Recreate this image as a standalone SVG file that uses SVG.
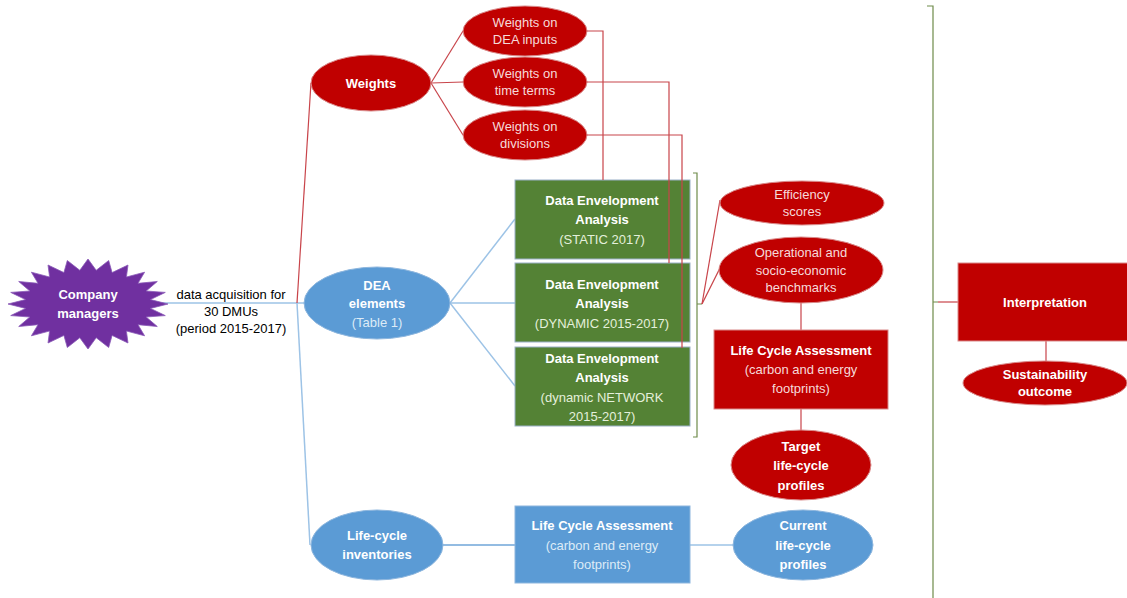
<svg xmlns="http://www.w3.org/2000/svg" width="1127" height="598" viewBox="0 0 1127 598">
<style>
text{font-family:"Liberation Sans",Arial,sans-serif;font-size:13px;text-anchor:middle}
.b{font-weight:bold}
.w{fill:#ffffff}
.rp{fill:#F6DADA}
.gp{fill:#E4F0DB}
.bp{fill:#DDEBF7}
.k{fill:#000000}
.red{fill:#C00000;stroke:#D98A8A;stroke-width:1}
.blue{fill:#5B9BD5;stroke:#8DB6DE;stroke-width:1}
.green{fill:#548235;stroke:#9AB0C8;stroke-width:1}
.cr{fill:none;stroke:#C8444A;stroke-width:1.2}
.cb{fill:none;stroke:#9DC3E6;stroke-width:1.5}
.cb2{fill:none;stroke:#6FA6D8;stroke-width:1.5}
.br{fill:none;stroke:#6E8B4A;stroke-width:1.2}
</style>
<g id="connectors">
<line class="cb" x1="160" y1="303" x2="305" y2="303"/>
<line class="cr" x1="297" y1="303" x2="311" y2="83"/>
<line class="cb" x1="297" y1="303" x2="310" y2="545"/>
<line class="cr" x1="431" y1="83" x2="463" y2="31"/>
<line class="cr" x1="431" y1="83" x2="463" y2="82"/>
<line class="cr" x1="431" y1="83" x2="463" y2="135"/>
<line class="cb" x1="450" y1="303" x2="515" y2="219"/>
<line class="cb" x1="450" y1="303" x2="515" y2="303"/>
<line class="cb" x1="450" y1="303" x2="515" y2="386"/>
<line class="cb2" x1="443" y1="545" x2="515" y2="545"/>
<line class="cb" x1="690" y1="545" x2="733" y2="545"/>
<path class="br" d="M693,173 H697 V437 H693 M697,304 H702"/>
<line class="cr" x1="702" y1="304" x2="720" y2="200"/>
<line class="cr" x1="702" y1="304" x2="720" y2="268"/>
<line class="cr" x1="801" y1="303" x2="801" y2="330"/>
<line class="cr" x1="801" y1="409" x2="801" y2="431"/>
<path class="br" d="M927,6 H933 V598 M933,302 H938"/>
<line class="cr" x1="938" y1="302" x2="958" y2="302"/>
<line class="cr" x1="1046" y1="341" x2="1046" y2="361"/>
</g>
<g id="company-managers">
<polygon fill="#7030A0" stroke="#8A5AB8" stroke-width="0.8" points="168,304 150.5,308.4 165.3,315.6 146.2,317 157.3,326.5 138,324.7 144.6,335.8 126.4,331 128,343 112.1,335.4 108.7,347.5 96.2,337.7 88,349 79.8,337.7 67.3,347.5 63.9,335.4 48,343 49.6,331 31.4,335.8 38,324.7 18.7,326.5 29.8,317 10.7,315.6 25.5,308.4 8,304 25.5,299.6 10.7,292.4 29.8,291 18.7,281.5 38,283.3 31.4,272.2 49.6,277 48,265 63.9,272.6 67.3,260.5 79.8,270.3 88,259 96.2,270.3 108.7,260.5 112.1,272.6 128,265 126.4,277 144.6,272.2 138,283.3 157.3,281.5 146.2,291 165.3,292.4 150.5,299.6"/>
<text class="b w" x="88" y="299">Company</text>
<text class="b w" x="88" y="318">managers</text>
</g>
<g id="edge-label">
<text class="k" x="231" y="299">data acquisition for</text>
<text class="k" x="231" y="316">30 DMUs</text>
<text class="k" x="231" y="333">(period 2015-2017)</text>
</g>
<g id="weights">
<ellipse class="red" cx="371" cy="83" rx="60" ry="28"/>
<text class="b w" x="371" y="88">Weights</text>
</g>
<g id="weights-dea-inputs">
<ellipse class="red" cx="525" cy="31" rx="62" ry="25"/>
<text class="rp" x="525" y="27">Weights on</text>
<text class="rp" x="525" y="44">DEA inputs</text>
</g>
<g id="weights-time-terms">
<ellipse class="red" cx="525" cy="82" rx="62" ry="25"/>
<text class="rp" x="525" y="78">Weights on</text>
<text class="rp" x="525" y="95">time terms</text>
</g>
<g id="weights-divisions">
<ellipse class="red" cx="525" cy="135" rx="62" ry="25"/>
<text class="rp" x="525" y="131">Weights on</text>
<text class="rp" x="525" y="148">divisions</text>
</g>
<g id="dea-elements">
<ellipse class="blue" cx="377" cy="303" rx="73" ry="36"/>
<text class="b w" x="377" y="290">DEA</text>
<text class="b w" x="377" y="308">elements</text>
<text class="bp" x="377" y="327">(Table 1)</text>
</g>
<g id="dea-static">
<rect class="green" x="515" y="180" width="175" height="79"/>
<text class="b w" x="602" y="205">Data Envelopment</text>
<text class="b w" x="602" y="224">Analysis</text>
<text class="gp" x="602" y="244">(STATIC 2017)</text>
</g>
<g id="dea-dynamic">
<rect class="green" x="515" y="263" width="175" height="79"/>
<text class="b w" x="602" y="289">Data Envelopment</text>
<text class="b w" x="602" y="308">Analysis</text>
<text class="gp" x="602" y="328">(DYNAMIC 2015-2017)</text>
</g>
<g id="dea-network">
<rect class="green" x="515" y="347" width="175" height="79"/>
<text class="b w" x="602" y="363">Data Envelopment</text>
<text class="b w" x="602" y="382">Analysis</text>
<text class="gp" x="602" y="402">(dynamic NETWORK</text>
<text class="gp" x="602" y="421">2015-2017)</text>
</g>
<g id="weight-links">
<polyline class="cr" points="587,31 603,31 603,180"/>
<polyline class="cr" points="587,82 669,82 669,263"/>
<polyline class="cr" points="587,135 682,135 682,348"/>
</g>
<g id="efficiency-scores">
<ellipse class="red" cx="802" cy="203" rx="82" ry="22"/>
<text class="rp" x="802" y="199">Efficiency</text>
<text class="rp" x="802" y="216">scores</text>
</g>
<g id="benchmarks">
<ellipse class="red" cx="801" cy="270" rx="82" ry="33"/>
<text class="rp" x="801" y="257">Operational and</text>
<text class="rp" x="801" y="275">socio-economic</text>
<text class="rp" x="801" y="292">benchmarks</text>
</g>
<g id="lca-red">
<rect class="red" x="714" y="330" width="174" height="79"/>
<text class="b w" x="801" y="355">Life Cycle Assessment</text>
<text class="rp" x="801" y="374">(carbon and energy</text>
<text class="rp" x="801" y="393">footprints)</text>
</g>
<g id="target-profiles">
<ellipse class="red" cx="801" cy="465" rx="70" ry="35"/>
<text class="b w" x="801" y="451">Target</text>
<text class="b w" x="801" y="470">life-cycle</text>
<text class="b w" x="801" y="490">profiles</text>
</g>
<g id="life-cycle-inventories">
<ellipse class="blue" cx="377" cy="545" rx="66" ry="35"/>
<text class="b w" x="377" y="540">Life-cycle</text>
<text class="b w" x="377" y="559">inventories</text>
</g>
<g id="lca-blue">
<rect class="blue" x="515" y="506" width="175" height="77"/>
<text class="b w" x="602" y="530">Life Cycle Assessment</text>
<text class="bp" x="602" y="550">(carbon and energy</text>
<text class="bp" x="602" y="569">footprints)</text>
</g>
<g id="current-profiles">
<ellipse class="blue" cx="803" cy="545" rx="70" ry="35"/>
<text class="b w" x="803" y="530">Current</text>
<text class="b w" x="803" y="550">life-cycle</text>
<text class="b w" x="803" y="569">profiles</text>
</g>
<g id="interpretation">
<rect class="red" x="958" y="263" width="172" height="78"/>
<text class="b w" x="1045" y="307">Interpretation</text>
</g>
<g id="sustainability-outcome">
<ellipse class="red" cx="1045" cy="383" rx="82" ry="22"/>
<text class="b w" x="1045" y="379">Sustainability</text>
<text class="b w" x="1045" y="396">outcome</text>
</g>
</svg>
